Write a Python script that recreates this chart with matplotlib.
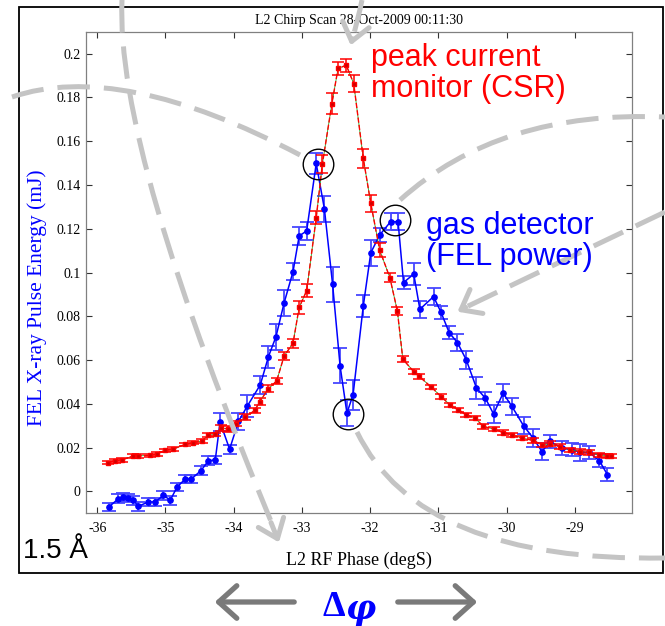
import matplotlib

matplotlib.use("Agg")
import matplotlib.pyplot as plt
from matplotlib.patches import FancyArrowPatch, PathPatch, Rectangle
from matplotlib.path import Path
from matplotlib.transforms import Affine2D

# gas detector (FEL power), mJ
phase_gas = [-35.83, -35.69, -35.62, -35.55, -35.47, -35.40, -35.25, -35.15, -35.03, -34.93,
             -34.83, -34.71, -34.62, -34.48, -34.37, -34.27, -34.20, -34.06, -33.93, -33.80,
             -33.61, -33.49, -33.38, -33.26, -33.13, -33.04, -32.93, -32.79, -32.67, -32.55,
             -32.44, -32.34, -32.25, -32.10, -31.99, -31.86, -31.70, -31.59, -31.51, -31.36,
             -31.27, -31.07, -30.96, -30.84, -30.72, -30.59, -30.44, -30.31, -30.19, -30.05,
             -29.92, -29.75, -29.61, -29.48, -29.36, -29.19, -29.04, -28.92, -28.79, -28.64,
             -28.52]
energy_gas = [-0.0071, -0.0033, -0.0025, -0.0030, -0.0040, -0.0068, -0.0048, -0.0048, -0.0018, -0.0040,
              0.0020, 0.0057, 0.0057, 0.0095, 0.0140, 0.0144, 0.0317, 0.0193, 0.0320, 0.0390,
              0.0487, 0.0616, 0.0707, 0.0862, 0.1004, 0.1167, 0.1190, 0.1498, 0.1290, 0.0946,
              0.0573, 0.0358, 0.0441, 0.0847, 0.1090, 0.1171, 0.1232, 0.1232, 0.0954, 0.0993,
              0.0832, 0.0890, 0.0818, 0.0725, 0.0680, 0.0601, 0.0472, 0.0426, 0.0354, 0.0449,
              0.0388, 0.0300, 0.0244, 0.0182, 0.0228, 0.0198, 0.0190, 0.0178, 0.0178, 0.0141,
              0.0076]
err_gas = [0.002, 0.002, 0.002, 0.002, 0.002, 0.002, 0.002, 0.002, 0.002, 0.002,
           0.002, 0.002, 0.002, 0.002, 0.002, 0.002, 0.004, 0.002, 0.004, 0.005,
           0.004, 0.005, 0.006, 0.006, 0.004, 0.004, 0.004, 0.005, 0.006, 0.008,
           0.008, 0.006, 0.007, 0.005, 0.006, 0.003, 0.004, 0.004, 0.003, 0.005,
           0.004, 0.004, 0.003, 0.003, 0.004, 0.004, 0.005, 0.003, 0.004, 0.004,
           0.004, 0.004, 0.004, 0.004, 0.003, 0.003, 0.003, 0.004, 0.003, 0.003,
           0.003]

# peak current monitor (CSR), same axis scale
phase_csr = [-35.84, -35.74, -35.64, -35.47, -35.40, -35.23, -35.13, -35.01, -34.89, -34.71,
             -34.59, -34.47, -34.37, -34.27, -34.18, -34.08, -33.96, -33.83, -33.69, -33.62,
             -33.49, -33.37, -33.26, -33.13, -33.04, -32.93, -32.79, -32.70, -32.56, -32.47,
             -32.35, -32.24, -32.10, -31.99, -31.86, -31.71, -31.60, -31.52, -31.36, -31.28,
             -31.10, -30.96, -30.83, -30.71, -30.59, -30.46, -30.34, -30.19, -30.05, -29.92,
             -29.78, -29.61, -29.48, -29.36, -29.22, -29.07, -28.92, -28.79, -28.65, -28.53,
             -28.47]
signal_csr = [0.0132, 0.0140, 0.0144, 0.0162, 0.0162, 0.0165, 0.0170, 0.0188, 0.0193, 0.0215,
              0.0223, 0.0230, 0.0257, 0.0260, 0.0290, 0.0285, 0.0310, 0.0340, 0.0370, 0.0410,
              0.0469, 0.0505, 0.0619, 0.0677, 0.0841, 0.0917, 0.1250, 0.1495, 0.1772, 0.1932,
              0.1947, 0.1863, 0.1521, 0.1316, 0.1103, 0.0976, 0.0824, 0.0604, 0.0547, 0.0525,
              0.0476, 0.0433, 0.0396, 0.0373, 0.0350, 0.0335, 0.0297, 0.0285, 0.0269, 0.0259,
              0.0244, 0.0233, 0.0213, 0.0218, 0.0205, 0.0190, 0.0182, 0.0178, 0.0167, 0.0163,
              0.0163]
err_csr = [0.0008, 0.0008, 0.0008, 0.0008, 0.0008, 0.0008, 0.0008, 0.0008, 0.0008, 0.0008,
           0.0008, 0.0008, 0.0008, 0.0008, 0.0012, 0.0012, 0.0012, 0.0012, 0.0012, 0.0015,
           0.0015, 0.0015, 0.0020, 0.0020, 0.0030, 0.0030, 0.0030, 0.0040, 0.0050, 0.0030,
           0.0030, 0.0040, 0.0045, 0.0040, 0.0030, 0.0020, 0.0020, 0.0015, 0.0010, 0.0010,
           0.0010, 0.0010, 0.0010, 0.0010, 0.0010, 0.0010, 0.0010, 0.0010, 0.0010, 0.0010,
           0.0010, 0.0010, 0.0010, 0.0010, 0.0010, 0.0010, 0.0010, 0.0010, 0.0010, 0.0010,
           0.0010]

# circled points (two gas peaks and the dip)
circled_phase = [-32.76, -32.32, -31.64]
circled_energy = [0.1494, 0.0353, 0.1240]

x_ticks = [-36, -35, -34, -33, -32, -31, -30, -29]
x_tick_labels = ["-36", "-35", "-34", "-33", "-32", "-31", "-30", "-29"]
y_ticks = [0, 0.02, 0.04, 0.06, 0.08, 0.1, 0.12, 0.14, 0.16, 0.18, 0.2]
y_tick_labels = ["0", "0.02", "0.04", "0.06", "0.08", "0.1", "0.12", "0.14", "0.16", "0.18", "0.2"]

W, H = 665, 626
SERIF = "Liberation Serif"
SANS = "Liberation Sans"

fig = plt.figure(figsize=(W / 100, H / 100), dpi=100)
# pixel coords, origin top-left
px = Affine2D().scale(1 / W, -1 / H).translate(0, 1) + fig.transFigure

ax = fig.add_axes([85.7 / W, 1 - 513.3 / H, (632 - 85.7) / W, (513.3 - 31.7) / H])

ax.errorbar(phase_gas, energy_gas, yerr=err_gas, fmt="-o", color="#0000ff", ms=3.8, lw=1.1,
            ecolor="#4646ff", elinewidth=1.3, capsize=5, capthick=1.3, zorder=3)
ax.plot(phase_csr, signal_csr, color="#22aa22", lw=0.6, zorder=3.5)
ax.errorbar(phase_csr, signal_csr, yerr=err_csr, fmt="--s", color="red", ms=3.2, lw=1.0,
            mfc="#cc0000", mec="red", ecolor="red", elinewidth=1.1, capsize=4, capthick=1.1,
            zorder=4)
ax.plot(circled_phase, circled_energy, "o", ms=22, mfc="none", mec="black", mew=1.0, zorder=5)

ax.set_xlim(-36.17, -28.16)
ax.set_ylim(-0.01, 0.21)
ax.set_xticks(x_ticks)
ax.set_xticklabels(x_tick_labels, family=SERIF, fontsize=10)
ax.set_yticks(y_ticks)
ax.set_yticklabels(y_tick_labels, family=SERIF, fontsize=10)
ax.tick_params(direction="in", length=4, width=0.8, color="#333333", top=True, right=True)
ax.tick_params(axis="x", pad=6)
ax.tick_params(axis="y", pad=3.5)
for s in ax.spines.values():
    s.set_color("#808080")
    s.set_linewidth(0.9)

ax.set_title("L2 Chirp Scan 28-Oct-2009 00:11:30", family=SERIF, fontsize=10, pad=5.5)
ax.set_xlabel("L2 RF Phase (degS)", family=SERIF, fontsize=13, labelpad=12)
ax.set_ylabel("FEL X-ray Pulse Energy (mJ)", family=SERIF, fontsize=15.5, color="#0000ff")
ax.yaxis.set_label_coords((47 - 85.7) / 546.3, (513.3 - 298) / 481.6)

# outer frame
fig.add_artist(Rectangle((19, 7.3), 644, 565.7, fill=False, ec="black", lw=1.3, transform=px))

# gray dashed guide curves
GRAY = "#c4c4c4"
dash = (0, (6.5, 2.8))
curves = [
    [(122, 0), (115, 150), (278, 538)],
    [(12, 97), (120, 60), (300, 155)],
    [(357, 432), (420, 562), (665, 558)],
    [(400, 200), (500, 110), (665, 117)],
    [(665, 212), (560, 262), (462, 309)],
    [(362, 0), (358, 20), (352, 40)],
]
for pts in curves:
    path = Path(pts, [Path.MOVETO, Path.CURVE3, Path.CURVE3])
    fig.add_artist(PathPatch(path, fill=False, ec=GRAY, lw=3.6, ls=dash, transform=px,
                             capstyle="butt"))

heads = [((270, 520), (280, 545)), ((468, 306), (455, 313)), ((353, 36), (350, 48))]
for a, b in heads:
    fig.add_artist(FancyArrowPatch(a, b, arrowstyle="->,head_length=0.45,head_width=0.35",
                                   mutation_scale=28, lw=3.6, color=GRAY, transform=px))

fig.text(371 / W, 1 - 43 / H, "peak current\nmonitor (CSR)", family=SANS, fontsize=22,
         color="red", ha="left", va="top", linespacing=1.05)
fig.text(426 / W, 1 - 211 / H, "gas detector\n(FEL power)", family=SANS, fontsize=22,
         color="#0000ff", ha="left", va="top", linespacing=1.05)
fig.text(23 / W, 1 - 551 / H, "1.5 Å", family=SANS, fontsize=20, color="black",
         ha="left", va="center")

# delta phi with arrows
fig.text(345 / W, 1 - 607 / H, "Δ", family=SERIF, fontsize=26, weight="bold",
         color="#0000ff", ha="right", va="center")
fig.text(345 / W, 1 - 609 / H, "φ", family="DejaVu Serif", fontsize=24, weight="bold",
         style="italic", color="#0000ff", ha="left", va="center")
for a, b in [((297, 602), (212, 602)), ((395, 602), (480, 602))]:
    fig.add_artist(FancyArrowPatch(a, b, arrowstyle="->,head_length=0.5,head_width=0.45",
                                   mutation_scale=26, lw=3.8, color="#7a7a7a", transform=px))

fig.savefig("out.png", dpi=100)
